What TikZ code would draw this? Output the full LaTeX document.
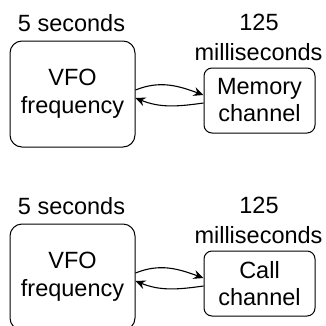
\documentclass[tikz,border=0pt]{standalone}
\usepackage{fontspec}
\setmainfont{Liberation Sans}
\usetikzlibrary{arrows.meta}
\definecolor{TimerInk}{HTML}{000000}

\begin{document}
\begin{tikzpicture}[x=1pt,y=1pt,
    vfobox/.style={draw=TimerInk,line width=1pt,rounded corners=12pt,
      minimum width=125pt,minimum height=106pt,align=center,
      font=\fontsize{23.5}{28}\selectfont},
    chanbox/.style={draw=TimerInk,line width=1pt,rounded corners=8pt,
      minimum width=111pt,minimum height=65pt,align=center,
      font=\fontsize{23.5}{27}\selectfont},
    timelabel/.style={text=TimerInk,align=center,
      font=\fontsize{23.5}{31}\selectfont},
    swap/.style={draw=TimerInk,line width=1.1pt,
      -{Stealth[length=10pt,width=9pt,inset=3.5pt]}}]

  \useasboundingbox (0,0) rectangle (326,325);

  % upper panel
  \node[vfobox] (vfoA) at (72.5,231) {VFO\\frequency};
  \node[chanbox] (memA) at (259.5,224.5) {Memory\\channel};

  \node[timelabel,anchor=base] (secA) at (71.5,294) {5 seconds};
  \node[timelabel,anchor=base] (msA) at (259,295) {125};
  \node[timelabel,anchor=base] (msAb) at (258.5,264.5) {milliseconds};

  \draw[swap] ([yshift=4pt]vfoA.east) to[out=22,in=160] ([yshift=5.5pt]memA.west);
  \draw[swap] ([yshift=-2.5pt]memA.west) to[out=188,in=-22] ([yshift=-4pt]vfoA.east);

  % lower panel
  \node[vfobox] (vfoB) at (72.5,48) {VFO\\frequency};
  \node[chanbox] (callB) at (259.5,41.5) {Call\\channel};

  \node[timelabel,anchor=base] (secB) at (71.5,111) {5 seconds};
  \node[timelabel,anchor=base] (msB) at (259,112) {125};
  \node[timelabel,anchor=base] (msBb) at (258.5,81.5) {milliseconds};

  \draw[swap] ([yshift=4pt]vfoB.east) to[out=22,in=160] ([yshift=5.5pt]callB.west);
  \draw[swap] ([yshift=-2.5pt]callB.west) to[out=188,in=-22] ([yshift=-4pt]vfoB.east);

\end{tikzpicture}
\end{document}
